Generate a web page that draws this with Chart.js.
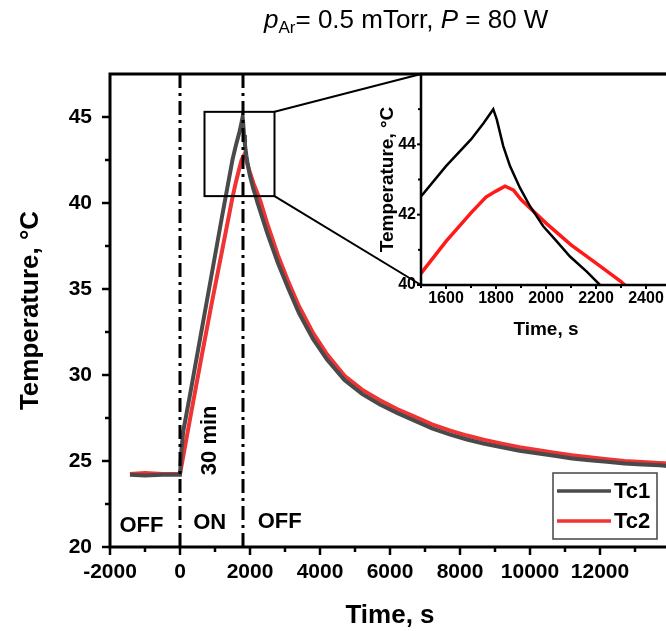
<!DOCTYPE html>
<html>
<head>
<meta charset="utf-8">
<script src="https://cdn.jsdelivr.net/npm/chart.js@4.4.1/dist/chart.umd.min.js"></script>
<style>
  html, body { margin: 0; padding: 0; background: #fff; overflow: hidden; }
  #wrap { position: relative; width: 666px; height: 631px; overflow: hidden; }
  #main { position: absolute; left: 0; top: 0; }
  #inset { position: absolute; left: 370px; top: 60px; }
  #title { position: absolute; left: 264px; top: 4px; white-space: nowrap;
           font: 26px "Liberation Sans", Arial, sans-serif; color: #000; }
  #title sub { font-size: 17px; vertical-align: -5px; line-height: 0; }
</style>
</head>
<body>
<div id="wrap">
  <canvas id="main" width="680" height="631"></canvas>
  <canvas id="inset" width="320" height="290"></canvas>
  <div id="title"><i>p</i><sub>Ar</sub>= 0.5 mTorr, <i>P</i> = 80 W</div>
</div>
<script>
// --- data (time in s, temperature in °C) ---
const tc1Time = [-1430, -1000, -500, 0, 40, 90, 300, 600, 900, 1200, 1500, 1600, 1700, 1750, 1789,
  1803, 1829, 1856, 1896, 1936, 1989, 2043, 2096, 2163, 2216, 2500, 2800, 3100, 3400, 3800, 4200,
  4700, 5200, 5700, 6200, 6700, 7200, 7700, 8200, 8700, 9200, 9700, 10200, 10700, 11200, 11700,
  12200, 12700, 13200, 13700, 14000];
const tc1Temp = [24.2, 24.15, 24.2, 24.2, 25.6, 26.7, 29.0, 32.4, 35.8, 39.2, 42.52, 43.38, 44.14, 44.6, 45.0,
  44.71, 43.95, 43.38, 42.76, 42.24, 41.67, 41.24, 40.81, 40.38, 40.0, 38.2, 36.5, 35.0, 33.6, 32.1, 30.9,
  29.7, 28.9, 28.3, 27.8, 27.35, 26.9, 26.55, 26.25, 26.0, 25.8, 25.6, 25.45, 25.3, 25.15, 25.05,
  24.95, 24.85, 24.8, 24.75, 24.7];

const tc2Time = [-1430, -1000, -500, 0, 300, 600, 900, 1200, 1500, 1600, 1700, 1760, 1800, 1836, 1870,
  1900, 2000, 2100, 2200, 2300, 2500, 2800, 3100, 3400, 3800, 4200, 4700, 5200, 5700, 6200, 6700,
  7200, 7700, 8200, 8700, 9200, 9700, 10200, 10700, 11200, 11700, 12200, 12700, 13200, 13700, 14000];
const tc2Temp = [24.25, 24.3, 24.25, 24.25, 27.6, 30.9, 34.1, 37.2, 40.33, 41.24, 42.05, 42.5, 42.67, 42.81, 42.7,
  42.43, 41.76, 41.14, 40.62, 40.1, 38.75, 36.95, 35.4, 34.0, 32.45, 31.2, 29.95, 29.15, 28.55, 28.02, 27.58,
  27.13, 26.78, 26.48, 26.23, 26.0, 25.8, 25.64, 25.48, 25.33, 25.22, 25.1, 25.0, 24.94, 24.89, 24.85];

const seriesLabels = ["Tc1", "Tc2"];
const switchTimes = [0, 1800];          // plasma on / off (dash-dot lines)

// main axes
const xTicks = [-2000, 0, 2000, 4000, 6000, 8000, 10000, 12000];
const xMinorTicks = [-1000, 1000, 3000, 5000, 7000, 9000, 11000, 13000];
const yTicks = [20, 25, 30, 35, 40, 45];
const yMinorTicks = [22.5, 27.5, 32.5, 37.5, 42.5];

// inset axes
const insetXTicks = [1600, 1800, 2000, 2200, 2400];
const insetXMinorTicks = [1500, 1700, 1900, 2100, 2300];
const insetYTicks = [40, 42, 44];
const insetYMinorTicks = [41, 43, 45];

// zoomed window marked on the main plot
const zoomBoxX = [700, 2700];
const zoomBoxY = [40.4, 45.3];

const FONT = '"Liberation Sans", Arial, sans-serif';
Chart.defaults.font.family = FONT;
Chart.defaults.color = "#000";

const pts = (xs, ys) => xs.map((x, i) => ({ x, y: ys[i] }));
const INSET_LEFT = 370, INSET_TOP = 60;

function line(ctx, x1, y1, x2, y2) {
  ctx.beginPath(); ctx.moveTo(x1, y1); ctx.lineTo(x2, y2); ctx.stroke();
}

// frame + tick marks drawn by hand so minor ticks can be shorter
function frame(chart, o) {
  const { ctx, chartArea: a, scales: { x, y } } = chart;
  ctx.save();
  ctx.strokeStyle = "#000";
  ctx.lineWidth = o.tickWidth;
  for (const v of o.xMajor) { const p = x.getPixelForValue(v); line(ctx, p, a.bottom, p, a.bottom + o.major); }
  for (const v of o.xMinor) { const p = x.getPixelForValue(v); line(ctx, p, a.bottom, p, a.bottom + o.minor); }
  for (const v of o.yMajor) { const p = y.getPixelForValue(v); line(ctx, a.left, p, a.left - o.major, p); }
  for (const v of o.yMinor) { const p = y.getPixelForValue(v); line(ctx, a.left, p, a.left - o.minor, p); }
  ctx.lineWidth = o.axisWidth;
  ctx.lineCap = "square";
  ctx.strokeRect(a.left, a.top, a.right - a.left, a.bottom - a.top);
  ctx.restore();
}

const tickOnly = (len) => ({ display: true, drawOnChartArea: false, drawTicks: true, tickLength: len, color: "rgba(0,0,0,0)" });
const fixedTicks = (vals) => (s) => { s.ticks = vals.map(v => ({ value: v })); };

// ---------- inset ----------
const insetChart = new Chart(document.getElementById("inset"), {
  type: "line",
  data: {
    datasets: [
      { label: seriesLabels[0], data: pts(tc1Time, tc1Temp), borderColor: "#000", borderWidth: 2.5, pointRadius: 0 },
      { label: seriesLabels[1], data: pts(tc2Time, tc2Temp), borderColor: "#ff1a1a", borderWidth: 3.5, pointRadius: 0 },
    ],
  },
  options: {
    animation: false, responsive: false, events: [],
    layout: { padding: { top: 14, right: 19, left: 0, bottom: 0 } },
    scales: {
      x: {
        type: "linear", min: 1500, max: 2500,
        afterBuildTicks: fixedTicks(insetXTicks),
        afterFit: (s) => { s.height = 65; },
        grid: tickOnly(4), border: { display: false },
        ticks: { autoSkip: false, maxRotation: 0, padding: 0, font: { size: 16, weight: "bold" }, callback: (v) => String(v) },
        title: { display: true, text: "Time, s", font: { size: 19, weight: "bold" }, padding: { top: 0, bottom: 9 } },
      },
      y: {
        type: "linear", min: 40, max: 46,
        afterBuildTicks: fixedTicks(insetYTicks),
        afterFit: (s) => { s.width = 51; },
        grid: tickOnly(4), border: { display: false },
        ticks: { padding: 1, font: { size: 16, weight: "bold" }, callback: (v) => String(v) },
        title: { display: true, text: "Temperature, °C", font: { size: 19, weight: "bold" }, padding: { top: 6, bottom: 0 } },
      },
    },
    plugins: { legend: { display: false }, tooltip: { enabled: false } },
  },
  plugins: [{
    id: "insetFrame",
    afterDatasetsDraw(chart) {
      frame(chart, { xMajor: insetXTicks, xMinor: insetXMinorTicks, yMajor: insetYTicks, yMinor: insetYMinorTicks,
        major: 4, minor: 3, tickWidth: 2, axisWidth: 2.5 });
    },
  }],
});

// ---------- main ----------
const decor = {
  id: "decor",
  afterDatasetsDraw(chart) {
    const { ctx, chartArea: a, scales: { x, y } } = chart;
    frame(chart, { xMajor: xTicks, xMinor: xMinorTicks, yMajor: yTicks, yMinor: yMinorTicks,
      major: 8, minor: 5, tickWidth: 2.5, axisWidth: 3 });

    ctx.save();
    // on / off markers
    ctx.strokeStyle = "#000";
    ctx.lineWidth = 3;
    ctx.setLineDash([14, 5, 3, 5]);
    for (const t of switchTimes) {
      const p = x.getPixelForValue(t);
      line(ctx, p, a.top, p, a.bottom);
    }
    ctx.setLineDash([]);

    // zoom box and connectors to the inset
    const bx1 = x.getPixelForValue(zoomBoxX[0]), bx2 = x.getPixelForValue(zoomBoxX[1]);
    const by1 = y.getPixelForValue(zoomBoxY[1]), by2 = y.getPixelForValue(zoomBoxY[0]);
    ctx.lineWidth = 2;
    ctx.strokeRect(bx1, by1, bx2 - bx1, by2 - by1);
    const ia = insetChart.chartArea;
    line(ctx, bx2, by1, INSET_LEFT + ia.left, INSET_TOP + ia.top);
    line(ctx, bx2, by2, INSET_LEFT + ia.left, INSET_TOP + ia.bottom);

    // state labels
    ctx.fillStyle = "#000";
    ctx.font = "bold 22px " + FONT;
    ctx.textAlign = "center";
    ctx.textBaseline = "middle";
    ctx.fillText("OFF", x.getPixelForValue(-1100), y.getPixelForValue(21.2));
    ctx.fillText("ON", x.getPixelForValue(850), y.getPixelForValue(21.4));
    ctx.fillText("OFF", x.getPixelForValue(2850), y.getPixelForValue(21.45));
    ctx.save();
    ctx.translate(x.getPixelForValue(850), y.getPixelForValue(26.2));
    ctx.rotate(-Math.PI / 2);
    ctx.fillText("30 min", 0, 0);
    ctx.restore();

    // legend
    const lr = a.right - 13, lb = a.bottom - 8, lw = 104, lh = 66;
    ctx.fillStyle = "#fff";
    ctx.fillRect(lr - lw, lb - lh, lw, lh);
    ctx.strokeStyle = "#444";
    ctx.lineWidth = 1.5;
    ctx.strokeRect(lr - lw, lb - lh, lw, lh);
    ctx.textAlign = "left";
    ctx.font = "bold 22px " + FONT;
    chart.data.datasets.forEach((ds, i) => {
      const ly = lb - lh + 18 + i * 30;
      ctx.strokeStyle = ds.borderColor;
      ctx.lineWidth = 3.5;
      line(ctx, lr - lw + 4, ly, lr - lw + 58, ly);
      ctx.fillStyle = "#000";
      ctx.fillText(ds.label, lr - lw + 61, ly + 1);
    });
    ctx.restore();
  },
};

new Chart(document.getElementById("main"), {
  type: "line",
  data: {
    datasets: [
      { label: seriesLabels[0], data: pts(tc1Time, tc1Temp), borderColor: "#4a4a4a", borderWidth: 4, pointRadius: 0 },
      { label: seriesLabels[1], data: pts(tc2Time, tc2Temp), borderColor: "#f03333", borderWidth: 4, pointRadius: 0 },
    ],
  },
  options: {
    animation: false, responsive: false, events: [],
    layout: { padding: { top: 74, right: 10, left: 0, bottom: 0 } },
    scales: {
      x: {
        type: "linear", min: -2000, max: 14000,
        afterBuildTicks: fixedTicks(xTicks),
        afterFit: (s) => { s.height = 84; },
        grid: tickOnly(8), border: { display: false },
        ticks: { autoSkip: false, maxRotation: 0, padding: 5, font: { size: 21, weight: "bold" }, callback: (v) => String(v) },
        title: { display: true, text: "Time, s", font: { size: 26, weight: "bold" }, padding: { top: 0, bottom: 0 } },
      },
      y: {
        type: "linear", min: 20, max: 47.5,
        afterBuildTicks: fixedTicks(yTicks),
        afterFit: (s) => { s.width = 110; },
        grid: tickOnly(8), border: { display: false },
        ticks: { padding: 10, font: { size: 21, weight: "bold" }, callback: (v) => String(v) },
        title: { display: true, text: "Temperature, °C", font: { size: 26, weight: "bold" }, padding: { top: 15, bottom: 0 } },
      },
    },
    plugins: { legend: { display: false }, tooltip: { enabled: false } },
  },
  plugins: [decor],
});
</script>
</body>
</html>
